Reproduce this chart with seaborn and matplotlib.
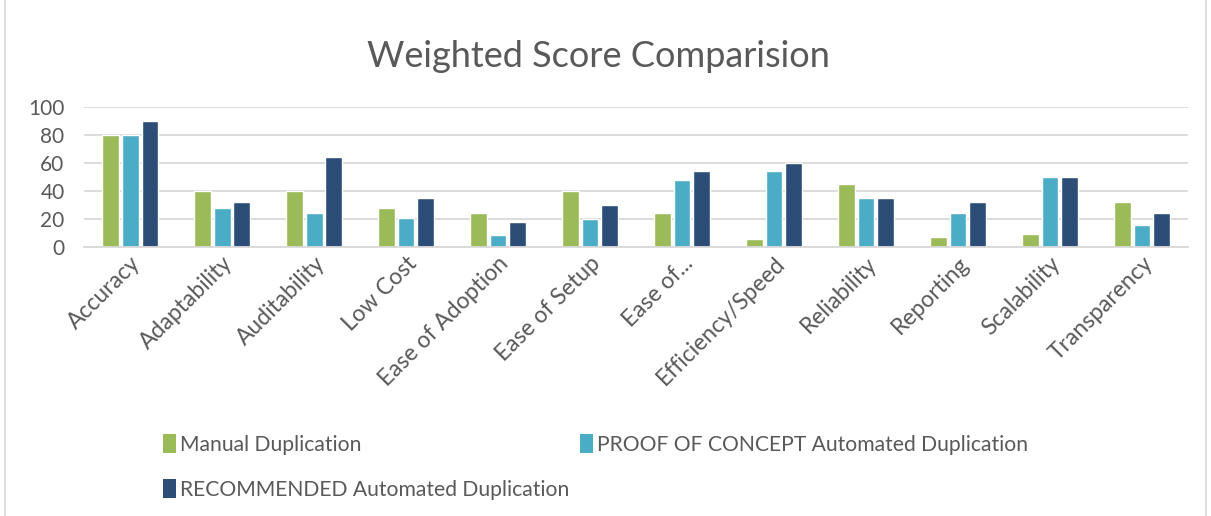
import pandas as pd
import numpy as np
import matplotlib.pyplot as plt
import seaborn as sns
from matplotlib.patches import Patch, Rectangle

categories = ['Accuracy', 'Adaptability', 'Auditability', 'Low Cost', 'Ease of Adoption',
              'Ease of Setup', 'Ease of...', 'Efficiency/Speed', 'Reliability', 'Reporting',
              'Scalability', 'Transparency']
series = ['Manual Duplication', 'PROOF OF CONCEPT Automated Duplication',
          'RECOMMENDED Automated Duplication']
manual = [80, 40, 40, 28, 24, 40, 24, 5.5, 45, 7.5, 9.5, 32]
poc = [80, 28, 24, 21, 9, 20, 48, 54, 35, 24, 50, 16]
recommended = [90, 32, 64, 35, 18, 30, 54, 60, 35, 32, 50, 24]
colors = ['#9BBB59', '#4BACC6', '#2C4D75']

df = pd.DataFrame({
    'category': categories * 3,
    'series': sum([[s] * len(categories) for s in series], []),
    'score': manual + poc + recommended,
})

sns.set_theme(style='white')
plt.rcParams['font.family'] = ['Lato', 'DejaVu Sans']
grey = '#595959'

fig = plt.figure(figsize=(12.11, 5.16), dpi=100)
ax = fig.add_axes([0.0694, 0.521, 0.9116, 0.272])

sns.barplot(data=df, x='category', y='score', hue='series', palette=colors,
            width=0.65, gap=0.15, ax=ax, legend=False, saturation=1)

ax.set_ylim(0, 100)
ax.set_yticks(range(0, 101, 20))
ax.yaxis.grid(True, color='#D9D9D9', linewidth=1.3)
ax.set_axisbelow(True)
for s in ['top', 'right', 'left']:
    ax.spines[s].set_visible(False)
ax.spines['bottom'].set_color('#D9D9D9')
ax.spines['bottom'].set_linewidth(1.3)
ax.set_xlabel('')
ax.set_ylabel('')
ax.tick_params(axis='x', length=0, colors=grey, labelsize=16.5, pad=4)
ax.tick_params(axis='y', length=0, colors=grey, labelsize=15, pad=14)
plt.setp(ax.get_xticklabels(), rotation=45, ha='right', rotation_mode='anchor', color=grey)
plt.setp(ax.get_yticklabels(), color=grey)

fig.text(0.494, 0.89, 'Weighted Score Comparision', ha='center', va='center',
         fontsize=26, color=grey)

# order so that row 1 = manual, poc; row 2 = recommended
order = [0, 2, 1]
handles = [Patch(facecolor=colors[i], edgecolor='none') for i in order]
labels = [series[i] for i in order]
fig.legend(handles, labels, ncol=2, loc='upper left', bbox_to_anchor=(0.119, 0.195),
           frameon=False, fontsize=15.2, labelcolor=grey, handlelength=0.6,
           handleheight=1.0, handletextpad=0.2, columnspacing=0.5, labelspacing=1.15)

fig.patches.append(Rectangle((0.004, -0.01), 0.992, 1.02, transform=fig.transFigure,
                             fill=False, edgecolor='#D9D9D9', linewidth=1.2))

fig.savefig('out.png', dpi=100)
